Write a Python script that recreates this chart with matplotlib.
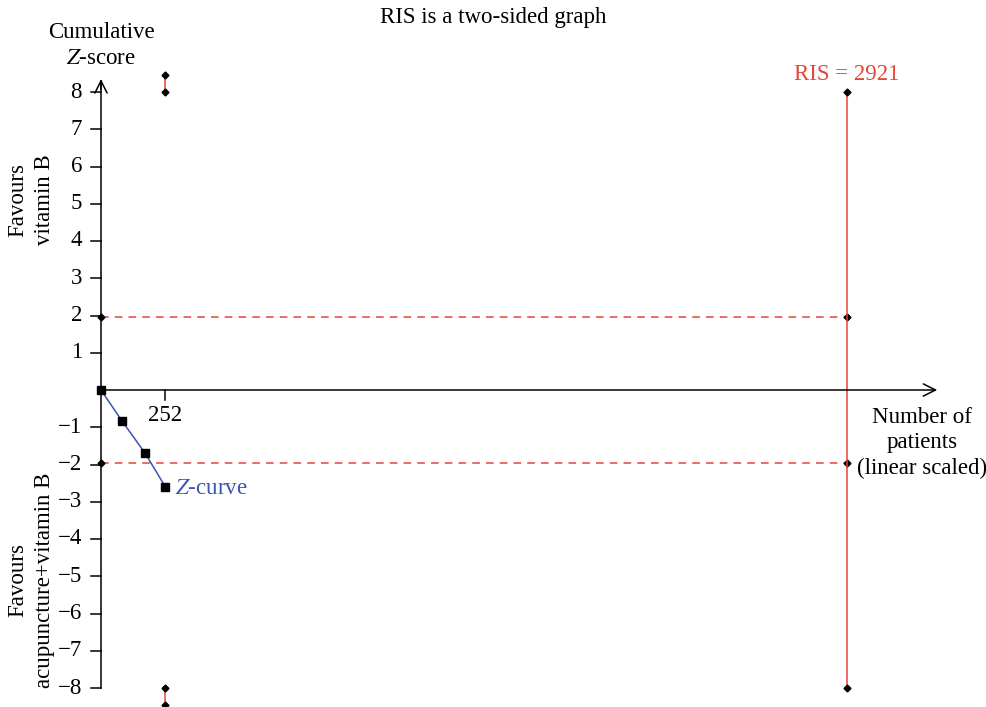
import matplotlib.pyplot as plt

# data
ris = 2921
z_x = [0, 82, 172, 252]
z_y = [0, -0.83, -1.69, -2.6]
bound_x = 252
bound_up = [8.0, 8.45]
bound_lo = [-8.0, -8.45]
conv = 1.96
yticks = [-8, -7, -6, -5, -4, -3, -2, -1, 1, 2, 3, 4, 5, 6, 7, 8]

plt.rcParams['font.family'] = ['Liberation Serif', 'DejaVu Serif']
plt.rcParams['font.size'] = 16.5

W, H = 986, 707
fig = plt.figure(figsize=(W / 100, H / 100), dpi=100)

# axes placed so that 0 -> px 101, 2921 -> px 847 ; z=0 -> px 390, 8 -> px 92
x0px, xrpx = 101, 960
ppx = (847 - 101) / ris
ypz = (390 - 92) / 8
top_px, bot_px = 60, 707
ax = fig.add_axes([x0px / W, 1 - bot_px / H, (xrpx - x0px) / W, (bot_px - top_px) / H])
ax.set_xlim(0, (xrpx - x0px) / ppx)
ax.set_ylim(-(bot_px - 390) / ypz, (390 - top_px) / ypz)
for s in ax.spines.values():
    s.set_visible(False)
ax.set_xticks([])
ax.set_yticks([])

red = '#e8443a'
blue = '#3a55b0'

# axes with arrows
ax.plot([0, 0], [-8, 8.3], color='black', lw=1.1, clip_on=False)
ax.annotate('', xy=(0, 8.42), xytext=(0, 8.0),
            arrowprops=dict(arrowstyle='->', color='black', lw=1.1, mutation_scale=22))
ax.annotate('', xy=((940 - 101) / ppx, 0), xytext=(0, 0),
            arrowprops=dict(arrowstyle='->', color='black', lw=1.1, mutation_scale=22))

# y ticks
xt = 10 / ppx
for t in yticks:
    ax.plot([-xt, 0], [t, t], color='black', lw=1.1, clip_on=False)
    ax.text(-xt - 9 / ppx, t, str(t).replace('-', '\u2212'), ha='right', va='center')
# x tick
ax.plot([bound_x, bound_x], [0, -10 / ypz], color='black', lw=1.1)
ax.text(bound_x, -0.4, str(bound_x), ha='center', va='top')

# conventional boundaries
ax.plot([0, ris], [conv, conv], color=red, ls=(0, (5, 4)), lw=1.1)
ax.plot([0, ris], [-conv, -conv], color=red, ls=(0, (5, 4)), lw=1.1)
ax.plot([0, 0, ris, ris], [conv, -conv, conv, -conv], 'D', color='black', ms=3.5, ls='none', clip_on=False)

# RIS line
ax.plot([ris, ris], [-8, 8], color=red, lw=1.1)
ax.plot([ris, ris], [-8, 8], 'D', color='black', ms=3.5, ls='none')
ax.text(ris, 8.2, 'RIS = %d' % ris, color=red, ha='center', va='bottom')

# monitoring boundary segments
ax.plot([bound_x, bound_x], bound_up, color=red, lw=1.1, clip_on=False)
ax.plot([bound_x, bound_x], bound_up, 'D', color='black', ms=3.5, ls='none', clip_on=False)
ax.plot([bound_x, bound_x], bound_lo, color=red, lw=1.1, clip_on=False)
ax.plot([bound_x, bound_x], bound_lo, 'D', color='black', ms=3.5, ls='none', clip_on=False)

# Z curve
ax.plot(z_x, z_y, color=blue, lw=1.1, marker='s', mfc='black', mec='black', ms=6, clip_on=False)
ax.text(z_x[-1] + 38, z_y[-1] - 0.05, r'$\mathit{Z}$-curve', color=blue, ha='left', va='center',
        math_fontfamily='stix')

# labels
fig.text(493 / W, 1 - 17 / H, 'RIS is a two-sided graph', ha='center', va='center')
fig.text(101 / W, 1 - 33 / H, 'Cumulative', ha='center', va='center')
fig.text(101 / W, 1 - 58 / H, r'$\mathit{Z}$-score', ha='center', va='center', math_fontfamily='stix')
fig.text(922 / W, 1 - 443 / H, 'Number of\npatients\n(linear scaled)', ha='center', va='center',
         linespacing=1.25)
fig.text(31 / W, 1 - 200 / H, 'Favours\nvitamin B', ha='center', va='center', rotation=90,
         linespacing=1.35)
fig.text(31 / W, 1 - 580 / H, 'Favours\nacupuncture+vitamin B', ha='center', va='center', rotation=90,
         linespacing=1.35)

fig.savefig('out.png', dpi=100)
